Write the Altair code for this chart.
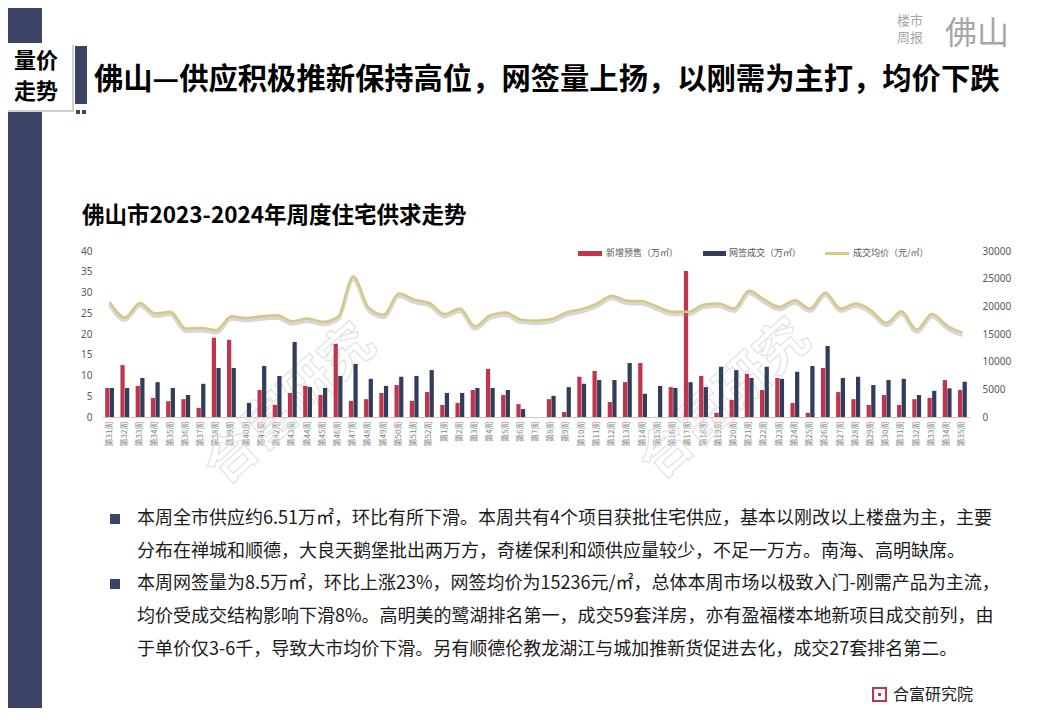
import altair as alt
import pandas as pd

# ---------------- data ----------------
weeks_2023 = list(range(31, 53))
weeks_2024 = list(range(1, 36))
week_keys = [f"2023第{w}周" for w in weeks_2023] + [f"2024第{w}周" for w in weeks_2024]

supply = [7.0, 12.5, 7.5, 4.6, 3.8, 4.3, 2.2, 19.1, 18.6, 0.0, 6.5, 2.9, 5.8, 7.5, 5.3, 17.6, 3.9, 4.3, 5.8, 7.7, 3.9, 6.0,
          2.9, 3.4, 6.5, 11.6, 5.3, 3.1, 0.0, 4.3, 1.2, 9.7, 11.1, 3.6, 8.4, 13.0, 0.0, 7.2, 35.2, 9.9, 1.0, 4.1, 10.4,
          6.5, 9.4, 3.4, 1.0, 11.8, 6.0, 4.3, 2.9, 5.3, 2.9, 4.3, 4.6, 8.9, 6.51]
signed = [7.0, 7.0, 9.4, 8.4, 7.0, 5.3, 8.0, 11.8, 11.8, 3.4, 12.3, 9.9, 18.1, 7.2, 7.0, 9.9, 12.8, 9.2, 7.5, 9.7, 9.9, 11.3,
          5.8, 5.8, 7.0, 7.0, 6.5, 1.9, 0.0, 5.1, 7.2, 8.0, 8.9, 8.9, 13.0, 5.6, 7.5, 7.0, 8.4, 7.2, 12.1, 11.3, 9.4,
          12.1, 9.2, 10.9, 12.3, 17.1, 9.4, 9.7, 7.7, 8.9, 9.2, 5.3, 6.3, 6.9, 8.5]
price = [20800, 18000, 20600, 18700, 19000, 16000, 16100, 15700, 18200, 17900, 18200, 18400, 17300, 17800, 17200, 18100,
         25400, 19800, 18500, 22300, 21200, 20600,
         18600, 19600, 16400, 18400, 18900, 17600, 17400, 17700, 18900, 19500, 20500, 21900, 21000, 20900, 19900, 19000,
         19000, 20300, 20500, 19600, 22800, 21200, 19900, 21100, 19600, 22500, 19600, 20500, 19300, 17000, 19100, 15800,
         18600, 16500, 15236]

series_names = ["新增预售", "网签成交"]
left_ticks = [0, 5, 10, 15, 20, 25, 30, 35, 40]
right_ticks = [0, 5000, 10000, 15000, 20000, 25000, 30000]

headline = "佛山—供应积极推新保持高位，网签量上扬，以刚需为主打，均价下跌"
chart_title = "佛山市2023-2024年周度住宅供求走势"
legend_labels = ["新增预售（万㎡）", "网签成交（万㎡）", "成交均价（元/㎡）"]
bullet_lines = [
    "本周全市供应约6.51万㎡，环比有所下滑。本周共有4个项目获批住宅供应，基本以刚改以上楼盘为主，主要",
    "分布在禅城和顺德，大良天鹅堡批出两万方，奇槎保利和颂供应量较少，不足一万方。南海、高明缺席。",
    "本周网签量为8.5万㎡，环比上涨23%，网签均价为15236元/㎡，总体本周市场以极致入门-刚需产品为主流，",
    "均价受成交结构影响下滑8%。高明美的鹭湖排名第一，成交59套洋房，亦有盈福楼本地新项目成交前列，由",
    "于单价仅3-6千，导致大市均价下滑。另有顺德伦教龙湖江与城加推新货促进去化，成交27套排名第二。",
]
watermark = "合富研究"

df = pd.DataFrame({"key": week_keys, "新增预售": supply, "网签成交": signed, "price": price})

RED = "#c1344b"
NAVY = "#323d5c"
STRIP = "#3b4466"
GOLD = "#d4c882"
CJK = "Noto Sans CJK SC"

# ---------------- main chart ----------------
x_enc = alt.X("key:N", sort=week_keys, title=None,
              scale=alt.Scale(paddingInner=0.42, paddingOuter=0.21),
              axis=alt.Axis(labelExpr="substring(datum.value, 4)", labelAngle=270, labelFontSize=8,
                            labelColor="#7f7f7f", labelFont=CJK, ticks=False, domainColor="#c8c8c8",
                            labelPadding=4, labelOverlap=False))

bars = alt.Chart(df).transform_fold(series_names, as_=["series", "value"]).mark_bar().encode(
    x=x_enc,
    xOffset=alt.XOffset("series:N", sort=series_names, scale=alt.Scale(paddingInner=0.08)),
    y=alt.Y("value:Q", title=None, scale=alt.Scale(domain=[0, 40], nice=False),
            axis=alt.Axis(values=left_ticks, labelFontSize=10, labelColor="#595959", domain=False, ticks=False,
                          grid=False, labelPadding=10, labelFont="Noto Sans")),
    color=alt.Color("series:N", scale=alt.Scale(domain=series_names, range=[RED, NAVY]), legend=None),
)

y_price = alt.Y("price:Q", title=None, scale=alt.Scale(domain=[0, 30000], nice=False),
                axis=alt.Axis(orient="right", values=right_ticks, format="d", labelFontSize=10,
                              labelColor="#595959", domain=False, ticks=False, grid=False, labelPadding=12,
                              labelFont="Noto Sans"))
line_base = alt.Chart(df).encode(x=alt.X("key:N", sort=week_keys), y=y_price)
shadow = line_base.mark_line(color="#8c8c8c", opacity=0.35, strokeWidth=4, yOffset=2.5, interpolate="monotone")
line = line_base.mark_line(color=GOLD, strokeWidth=2.5, interpolate="monotone")
lines = alt.layer(shadow, line)

# ---------------- slide decorations (page coords -> plot coords) ----------------
OX, OY = 102, 251
blank = alt.Data(values=[{"d": 1}])


def rect(x0, y0, x1, y1, color, **kw):
    return alt.Chart(blank).mark_rect(color=color, **kw).encode(
        x=alt.value(x0 - OX), x2=alt.value(x1 - OX), y=alt.value(y0 - OY), y2=alt.value(y1 - OY))


def text(s, x, y, size, color="#000000", weight="normal", align="left", font=CJK, **kw):
    return alt.Chart(blank).mark_text(text=s, fontSize=size, color=color, fontWeight=weight, align=align,
                                      baseline="middle", font=font, **kw).encode(
        x=alt.value(x - OX), y=alt.value(y - OY))


def wm(x, y):
    return alt.Chart(blank).mark_text(text=watermark, fontSize=52, fill="transparent", stroke="#e0e0e0",
                                      strokeWidth=1.1, angle=318, align="center", baseline="middle",
                                      font=CJK, fontWeight="bold").encode(
        x=alt.value(x - OX), y=alt.value(y - OY))


decor = [
    wm(290, 405),
    wm(725, 400),
    rect(0, 0, 42, 720, STRIP),
    rect(2, 45, 74, 112, "#d0d0d0"),
    rect(0, 43, 72, 110, "#ffffff"),
    rect(75, 46, 87, 104, STRIP),
    rect(76, 110, 80, 114, STRIP),
    rect(82, 110, 86, 114, STRIP),
    text("量价", 36, 61, 22, weight="bold", align="center"),
    text("走势", 36, 92, 22, weight="bold", align="center"),
    text(headline, 94, 80, 29.3, weight="bold"),
    text("楼市", 910, 21, 13, color="#a6a6a6", align="center"),
    text("周报", 910, 38, 13, color="#a6a6a6", align="center"),
    text("佛山", 977, 34, 32, color="#a6a6a6", align="center"),
    text(chart_title, 82, 216, 22.5, weight="bold"),
    # legend
    rect(578, 251, 602, 256, RED),
    text(legend_labels[0], 606, 253, 9, color="#595959"),
    rect(703, 251, 726, 256, NAVY),
    text(legend_labels[1], 729, 253, 9, color="#595959"),
    rect(825, 252, 849, 255, GOLD),
    text(legend_labels[2], 853, 253, 9, color="#595959"),
]
bullet_y = [519, 552, 584, 617, 650]
for i, (s, yy) in enumerate(zip(bullet_lines, bullet_y)):
    if i in (0, 2):
        decor.append(rect(110, yy - 5, 120, yy + 5, STRIP))
    decor.append(text(s, 137, yy, 18, color="#1a1a1a"))

decor += [
    rect(872, 687, 887, 702, RED),
    rect(874, 689, 885, 700, "#ffffff"),
    rect(878, 693, 881, 696, RED),
    text("合富研究院", 893, 695, 16, color="#1a1a1a"),
]

chart = alt.layer(*decor, bars, lines).resolve_scale(y="independent").properties(
    width=868, height=166,
    autosize=alt.AutoSizeParams(type="none"),
    padding={"left": 94, "top": 243, "right": 58, "bottom": 291},
).configure_view(stroke=None)

chart.save("out.html", embed_options={"renderer": "svg", "actions": False})
